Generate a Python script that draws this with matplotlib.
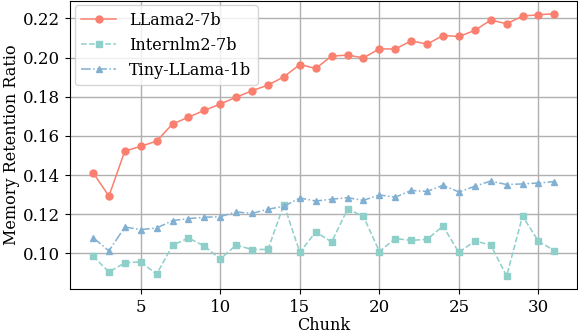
import numpy as np
import matplotlib.pyplot as plt

plt.rcParams['font.family'] = 'DejaVu Serif'

chunks = np.arange(2, 32)
llama2_7b = [0.1413, 0.1293, 0.1523, 0.1547, 0.1574, 0.1661, 0.1696, 0.1731, 0.1763, 0.1798,
             0.1831, 0.1860, 0.1902, 0.1965, 0.1945, 0.2008, 0.2013, 0.1999, 0.2045, 0.2044,
             0.2086, 0.2069, 0.2113, 0.2108, 0.2139, 0.2192, 0.2173, 0.2212, 0.2219, 0.2224]
internlm2_7b = [0.0986, 0.0906, 0.0952, 0.0957, 0.0894, 0.1042, 0.1079, 0.1038, 0.0972, 0.1043,
                0.1020, 0.1021, 0.1250, 0.1006, 0.1110, 0.1059, 0.1226, 0.1190, 0.1010, 0.1076,
                0.1067, 0.1072, 0.1140, 0.1005, 0.1064, 0.1043, 0.0885, 0.1191, 0.1062, 0.1015]
tiny_llama_1b = [0.1081, 0.1013, 0.1135, 0.1122, 0.1130, 0.1168, 0.1178, 0.1185, 0.1188, 0.1212,
                 0.1205, 0.1226, 0.1241, 0.1283, 0.1268, 0.1277, 0.1285, 0.1271, 0.1299, 0.1287,
                 0.1322, 0.1317, 0.1348, 0.1314, 0.1343, 0.1370, 0.1352, 0.1355, 0.1360, 0.1367]

fig, ax = plt.subplots(figsize=(5.78, 3.35), dpi=100)
ax.plot(chunks, llama2_7b, '-o', color='#FA7F6F', ms=5, lw=1.1, label='LLama2-7b')
ax.plot(chunks, internlm2_7b, '--s', color='#8ECFC9', ms=5, lw=1.1, label='Internlm2-7b')
ax.plot(chunks, tiny_llama_1b, '-.^', color='#82B0D2', ms=5, lw=1.1, label='Tiny-LLama-1b')

ax.grid(color='#b0b0b0', lw=1)
ax.set_axisbelow(True)
ax.set_xlabel('Chunk', fontsize=11.5, labelpad=1)
ax.set_ylabel('Memory Retention Ratio', fontsize=11.5, labelpad=2)
ax.tick_params(labelsize=12)
ax.set_yticks([0.10, 0.12, 0.14, 0.16, 0.18, 0.20, 0.22])
ax.legend(loc='upper left', fontsize=11.5, handlelength=2.2, borderaxespad=0.3)

fig.subplots_adjust(left=0.121, right=0.999, top=0.998, bottom=0.137)
fig.savefig('out.png')
